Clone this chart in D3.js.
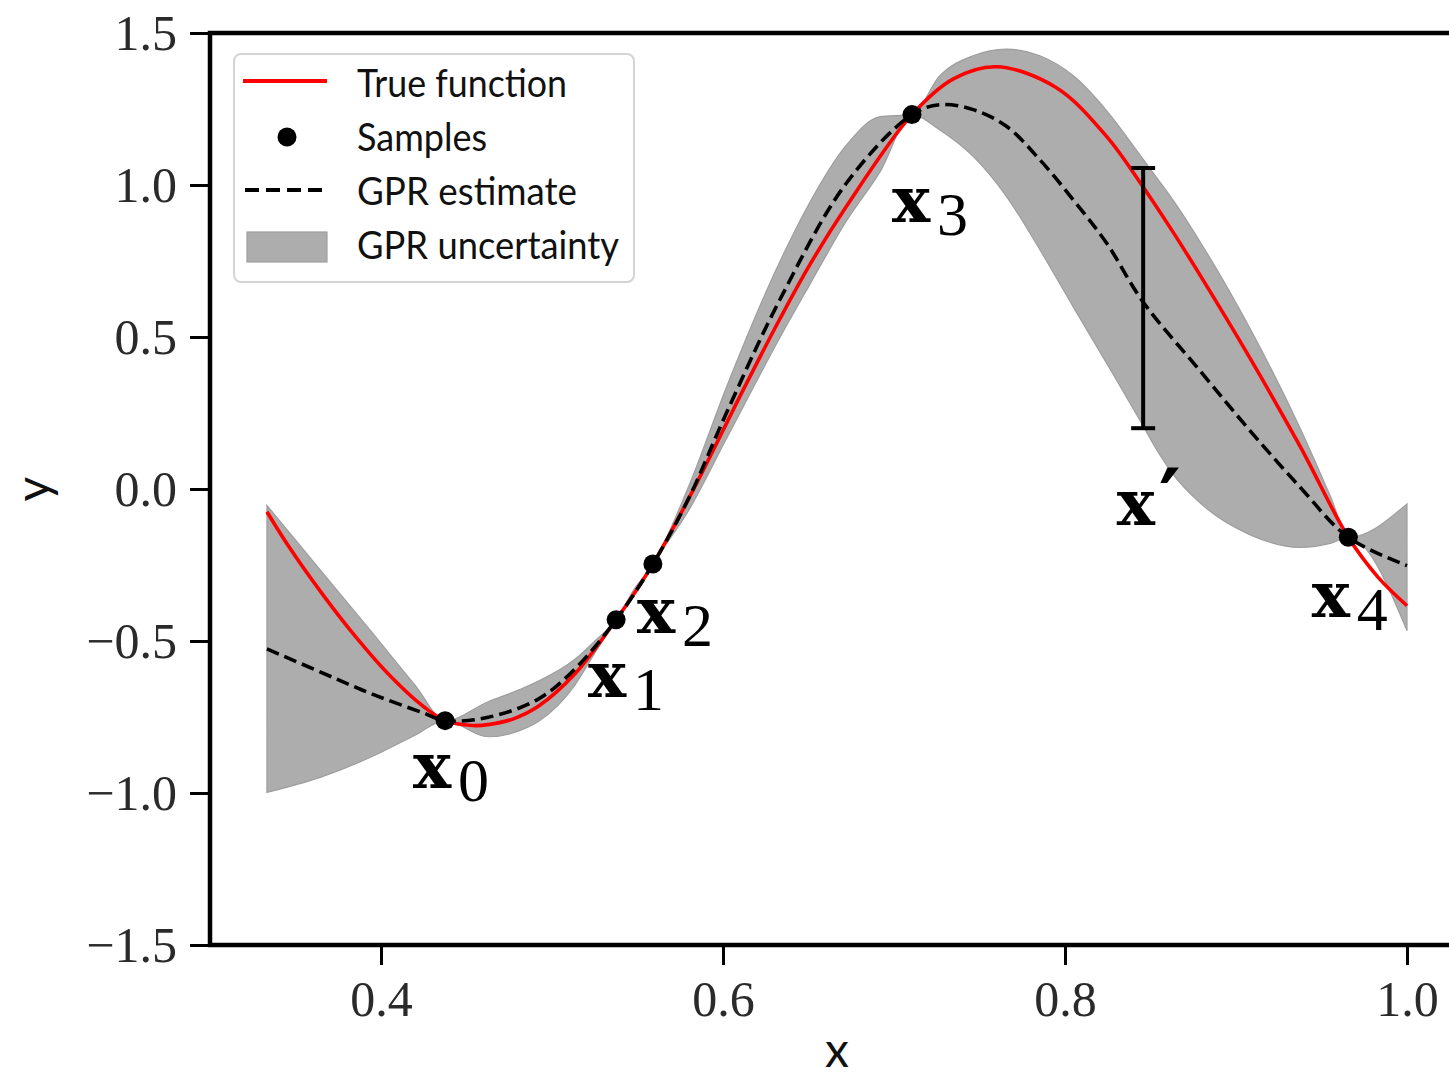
<!DOCTYPE html>
<html>
<head>
<meta charset="utf-8">
<script src="https://cdn.jsdelivr.net/npm/d3@7"></script>
<style>
  html, body { margin: 0; padding: 0; background: #fff; overflow: hidden; }
  svg { display: block; }
</style>
</head>
<body>
<svg id="chart" width="1449" height="1078"></svg>
<script>
// ---------------- DATA ----------------
const trueX = [0.3333,0.345,0.365,0.385,0.404,0.424,0.4375,0.4535,0.4627,0.4775,0.492,0.5134,0.5375,0.559,0.5826,0.6118,0.6333,0.6508,0.6722,0.7105,0.735,0.760,0.795,0.8243,0.8437,0.8632,0.8788,0.908,0.9375,0.9657,0.983,1.0];
const trueY = [-0.075,-0.180,-0.340,-0.485,-0.607,-0.712,-0.762,-0.778,-0.775,-0.756,-0.715,-0.608,-0.430,-0.247,-0.003,0.326,0.560,0.738,0.930,1.2315,1.350,1.389,1.320,1.160,1.010,0.845,0.705,0.432,0.140,-0.159,-0.290,-0.384];

const meanX = [0.3333,0.365,0.3945,0.424,0.4375,0.4627,0.492,0.5134,0.5375,0.559,0.58,0.602,0.633,0.672,0.7105,0.7268,0.7463,0.7658,0.7853,0.8047,0.8243,0.8457,0.8788,0.908,0.9375,0.9657,1.0];
const meanY = [-0.526,-0.603,-0.674,-0.735,-0.762,-0.751,-0.691,-0.592,-0.430,-0.247,-0.030,0.250,0.620,1.005,1.2315,1.264,1.248,1.193,1.083,0.952,0.809,0.615,0.390,0.193,0.006,-0.159,-0.252];

const bandX     = [0.3333,0.3653,0.3945,0.4199,0.4375,0.4627,0.481,0.492,0.5134,0.525,0.5375,0.548,0.559,0.58,0.602,0.633,0.65,0.672,0.692,0.7105,0.7268,0.7463,0.7658,0.7853,0.8047,0.8243,0.8437,0.8535,0.8632,0.8788,0.908,0.9375,0.9557,0.9657,1.0];
const bandUpper = [-0.054,-0.272,-0.470,-0.645,-0.762,-0.700,-0.660,-0.632,-0.560,-0.500,-0.430,-0.330,-0.247,0.010,0.335,0.745,0.935,1.130,1.225,1.2315,1.360,1.425,1.447,1.425,1.360,1.245,1.100,1.025,0.950,0.815,0.530,0.200,-0.030,-0.159,-0.049];
const bandLower = [-0.998,-0.947,-0.881,-0.810,-0.762,-0.815,-0.795,-0.765,-0.645,-0.540,-0.430,-0.350,-0.247,-0.070,0.165,0.495,0.665,0.880,1.045,1.2315,1.181,1.094,0.962,0.787,0.600,0.414,0.227,0.130,0.048,-0.045,-0.150,-0.192,-0.178,-0.159,-0.466];

const sampleX = [0.4375, 0.5375, 0.559, 0.7105, 0.9657];
const sampleY = [-0.762, -0.430, -0.247, 1.2315, -0.159];
const sampleSub = ["0", "1", "2", "3", "4"];
// label anchors (data coords of the bold "x" baseline-left)
const labelX = [0.4187, 0.5211, 0.5497, 0.6988, 0.9443];
const labelY = [-0.985, -0.685, -0.474, 0.879, -0.4215];

// probe point x' with its uncertainty bar
const probeX = 0.8457;
const probeLow = 0.200;
const probeHigh = 1.056;
const probeLabelX = 0.8302;
const probeLabelY = -0.118;

const xTicks = [0.4, 0.6, 0.8, 1.0];
const yTicks = [-1.5, -1.0, -0.5, 0.0, 0.5, 1.0, 1.5];
const xDomain = [0.3, 1.03333];
const yDomain = [-1.5, 1.5];

const legendLabels = ["True function", "Samples", "GPR estimate", "GPR uncertainty"];
const legendWidths = [210, 130, 220, 262];

// ---------------- CHART ----------------
const svg = d3.select("#chart");
const x = d3.scaleLinear().domain(xDomain).range([210, 1464]);
const y = d3.scaleLinear().domain(yDomain).range([945, 33]);

const RED = "#ff0000";
const BAND = "#adadad";

// uncertainty band
const bandData = bandX.map((v, i) => ({x: v, lo: bandLower[i], hi: bandUpper[i]}));
svg.append("path")
  .datum(bandData)
  .attr("d", d3.area().x(d => x(d.x)).y0(d => y(d.lo)).y1(d => y(d.hi)).curve(d3.curveMonotoneX))
  .attr("fill", BAND)
  .attr("stroke", "#9e9e9e")
  .attr("stroke-width", 1.2);

// true function
const trueData = trueX.map((v, i) => [v, trueY[i]]);
svg.append("path")
  .datum(trueData)
  .attr("d", d3.line().x(d => x(d[0])).y(d => y(d[1])).curve(d3.curveCatmullRom.alpha(0.5)))
  .attr("fill", "none")
  .attr("stroke", RED)
  .attr("stroke-width", 3.6);

// GPR estimate
const meanData = meanX.map((v, i) => [v, meanY[i]]);
svg.append("path")
  .datum(meanData)
  .attr("d", d3.line().x(d => x(d[0])).y(d => y(d[1])).curve(d3.curveCatmullRom.alpha(0.5)))
  .attr("fill", "none")
  .attr("stroke", "#000")
  .attr("stroke-width", 3.6)
  .attr("stroke-dasharray", "13,6");

// samples
svg.append("g").selectAll("circle")
  .data(sampleX.map((v, i) => [v, sampleY[i]]))
  .join("circle")
  .attr("cx", d => x(d[0]))
  .attr("cy", d => y(d[1]))
  .attr("r", 9.5)
  .attr("fill", "#000");

// error bar at x'
const eb = svg.append("g").attr("stroke", "#000").attr("stroke-width", 4);
eb.append("line").attr("x1", x(probeX)).attr("x2", x(probeX)).attr("y1", y(probeLow)).attr("y2", y(probeHigh));
eb.append("line").attr("x1", x(probeX) - 12).attr("x2", x(probeX) + 12).attr("y1", y(probeLow)).attr("y2", y(probeLow));
eb.append("line").attr("x1", x(probeX) - 12).attr("x2", x(probeX) + 12).attr("y1", y(probeHigh)).attr("y2", y(probeHigh));

// sample labels x_i
const lab = svg.append("g");
sampleSub.forEach((s, i) => {
  const lx = x(labelX[i]), ly = y(labelY[i]);
  lab.append("text").attr("x", lx).attr("y", ly)
    .attr("font-family", "DejaVu Serif").attr("font-weight", "bold").attr("font-size", 64)
    .attr("fill", "#000").text("x");
  lab.append("text").attr("x", lx + 45).attr("y", ly + 13)
    .attr("font-family", "Liberation Serif").attr("font-size", 62)
    .attr("fill", "#000").text(s);
});
// x' label
lab.append("text").attr("x", x(probeLabelX)).attr("y", y(probeLabelY))
  .attr("font-family", "DejaVu Serif").attr("font-weight", "bold").attr("font-size", 64)
  .attr("fill", "#000").text("x");
lab.append("text").attr("x", x(probeLabelX) + 42).attr("y", y(probeLabelY) + 4)
  .attr("font-family", "DejaVu Sans").attr("font-weight", "bold").attr("font-size", 84)
  .attr("fill", "#000").text("\u2032");

// axes
const fmt = d3.format(".1f");
const yAxis = svg.append("g").attr("transform", "translate(210,0)")
  .call(d3.axisLeft(y).tickValues(yTicks).tickSize(20).tickSizeOuter(0).tickPadding(13).tickFormat(fmt));
const xAxis = svg.append("g").attr("transform", "translate(0,945)")
  .call(d3.axisBottom(x).tickValues(xTicks).tickSize(20).tickSizeOuter(0).tickPadding(15.5).tickFormat(fmt));
[yAxis, xAxis].forEach(a => {
  a.select(".domain").remove();
  a.selectAll(".tick line").attr("stroke", "#000").attr("stroke-width", 3);
  a.selectAll(".tick text").attr("font-family", "Liberation Serif").attr("font-size", 50).attr("fill", "#2a2a2a");
});

// spines
svg.append("rect")
  .attr("x", x(xDomain[0])).attr("y", y(yDomain[1]))
  .attr("width", x(xDomain[1]) - x(xDomain[0]))
  .attr("height", y(yDomain[0]) - y(yDomain[1]))
  .attr("fill", "none").attr("stroke", "#000").attr("stroke-width", 4.5);

// axis labels
svg.append("text").attr("x", (x(xDomain[0]) + x(xDomain[1])) / 2).attr("y", 1067)
  .attr("text-anchor", "middle").attr("font-family", "Lato").attr("font-size", 48)
  .attr("fill", "#111").text("x");
svg.append("text").attr("transform", `translate(50,${y(0)}) rotate(-90)`)
  .attr("text-anchor", "middle").attr("font-family", "Lato").attr("font-size", 48)
  .attr("fill", "#111").text("y");

// legend
const lg = svg.append("g");
lg.append("rect").attr("x", 234).attr("y", 54).attr("width", 400).attr("height", 228)
  .attr("rx", 7).attr("fill", "#fff").attr("fill-opacity", 0.85)
  .attr("stroke", "#d4d4d4").attr("stroke-width", 2);
const rowY = [81, 137, 190, 247];
const textY = [97, 151, 205, 259];
lg.append("line").attr("x1", 243).attr("x2", 327).attr("y1", rowY[0]).attr("y2", rowY[0])
  .attr("stroke", RED).attr("stroke-width", 4);
lg.append("circle").attr("cx", 287).attr("cy", rowY[1]).attr("r", 9.5).attr("fill", "#000");
lg.append("line").attr("x1", 245).attr("x2", 327).attr("y1", rowY[2]).attr("y2", rowY[2])
  .attr("stroke", "#000").attr("stroke-width", 4).attr("stroke-dasharray", "14,7");
lg.append("rect").attr("x", 247).attr("y", 232).attr("width", 80).attr("height", 30)
  .attr("fill", BAND).attr("stroke", "#9e9e9e").attr("stroke-width", 1.2);
legendLabels.forEach((t, i) => {
  lg.append("text").attr("x", 357).attr("y", textY[i])
    .attr("font-family", "Lato").attr("font-size", 39).attr("fill", "#111")
    .attr("textLength", legendWidths[i]).attr("lengthAdjust", "spacingAndGlyphs")
    .text(t);
});
</script>
</body>
</html>
